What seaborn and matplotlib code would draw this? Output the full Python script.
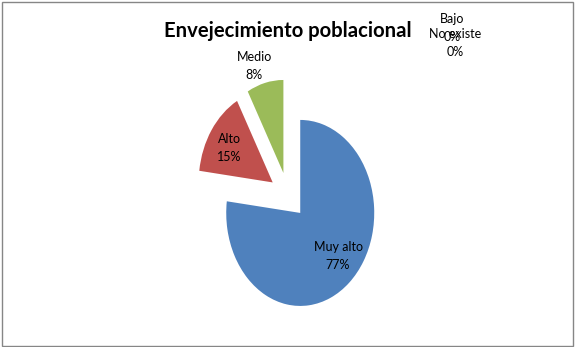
import matplotlib
matplotlib.use("Agg")
import matplotlib.pyplot as plt
import seaborn as sns
from matplotlib.patches import Rectangle

categories = ["Muy alto", "Alto", "Medio", "Bajo", "No existe"]
values = [77, 15, 8, 0, 0]
pct_labels = ["77%", "15%", "8%", "0%", "0%"]
title = "Envejecimiento poblacional"

sns.set_theme(style="white")
plt.rcParams['font.family'] = ['Lato', 'DejaVu Sans']
colors = ["#4F81BD", "#C0504D", "#9BBB59", "#8064A2", "#4BACC6"]

W, H = 576, 347
fig = plt.figure(figsize=(W / 100, H / 100), dpi=100)
ax = fig.add_axes([0, 0, 1, 1])

# pie center and radii in pixels (pie drawn slightly elliptical, like reference)
cx, cy = 288, 195.5
rx, ry = 74, 93

ax.pie(values, colors=colors, startangle=90, counterclock=False,
       explode=[0.25] * len(values), radius=1,
       wedgeprops=dict(linewidth=0))
ax.set_aspect('auto')
ax.set_xlim(-cx / rx, (W - cx) / rx)
ax.set_ylim((cy - H) / ry, cy / ry)
ax.axis('off')

def px2data(px, py):
    return (px - cx) / rx, (cy - py) / ry

label_px = [(338, 256), (229, 148), (254, 66), (452, 28), (455, 43)]
for cat, pct, (px, py) in zip(categories, pct_labels, label_px):
    x, y = px2data(px, py)
    ax.text(x, y, f"{cat}\n{pct}", ha='center', va='center', fontsize=9,
            linespacing=1.6, color='#000000')

fig.text(287.5 / W, 1 - 31 / H, title, ha='center', va='center',
         fontsize=14.6, fontweight='bold', color='#000000')

fig.patches.append(Rectangle((1.5 / W, 1.5 / H), 571.5 / W, 344 / H,
                             transform=fig.transFigure, fill=False,
                             edgecolor='#868686', linewidth=1))

fig.savefig("out.png", dpi=100)
